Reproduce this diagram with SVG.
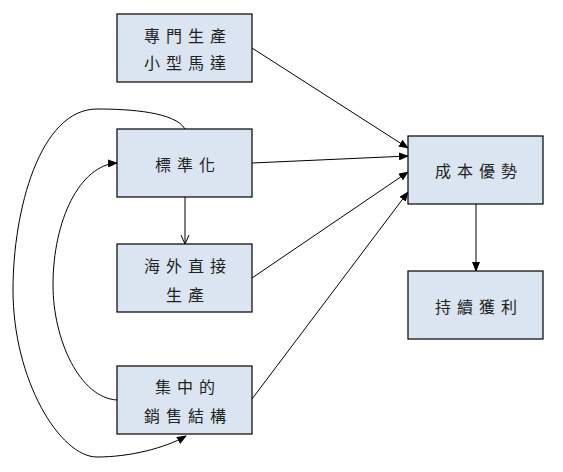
<svg xmlns="http://www.w3.org/2000/svg" width="563" height="472" viewBox="0 0 563 472">
<style>
.box{fill:#dbe5f1;stroke:#000;stroke-width:1.2}
.t{font-family:"Noto Sans CJK TC","Noto Sans CJK SC",sans-serif;font-size:16px;fill:#222;text-anchor:middle;letter-spacing:6px}
.c{fill:none;stroke:#000;stroke-width:1}
</style>
<defs>
<marker id="a" markerWidth="10" markerHeight="8" refX="9" refY="4" orient="auto" markerUnits="userSpaceOnUse">
<path d="M0,0 L10,4 L0,8 Z" fill="#000"/>
</marker>
<marker id="v" markerWidth="10" markerHeight="10" refX="9" refY="5" orient="auto" markerUnits="userSpaceOnUse">
<path d="M0,1 L9,5 L0,9" fill="none" stroke="#000" stroke-width="1"/>
</marker>
</defs>
<rect width="563" height="472" fill="#fff"/>
<g id="connectors">
<line class="c" x1="252" y1="48" x2="408" y2="148" marker-end="url(#a)"/>
<line class="c" x1="252" y1="163" x2="408" y2="156" marker-end="url(#a)"/>
<line class="c" x1="252" y1="278" x2="408" y2="172" marker-end="url(#a)"/>
<line class="c" x1="252" y1="399" x2="408" y2="192" marker-end="url(#a)"/>
<line class="c" x1="185" y1="197" x2="185" y2="244" marker-end="url(#v)"/>
<line class="c" x1="476" y1="204" x2="476" y2="271" marker-end="url(#a)"/>
<path class="c" d="M185,129 C175,112 130,109 97,109 C40,109 13,210 13,290 C13,380 60,457 97,457 C130,457 165,448 186,436" marker-end="url(#a)"/>
<path class="c" d="M117,400 C80,398 53,340 53,285 C53,220 80,165 117,163" marker-end="url(#a)"/>
</g>
<g id="n1"><rect class="box" x="117" y="14" width="135" height="68"/><text class="t" x="188" y="42">專門生產</text><text class="t" x="188" y="69">小型馬達</text></g>
<g id="n2"><rect class="box" x="117" y="129" width="135" height="68"/><text class="t" x="188" y="171">標準化</text></g>
<g id="n3"><rect class="box" x="117" y="244" width="135" height="68"/><text class="t" x="188" y="272">海外直接</text><text class="t" x="188" y="301">生產</text></g>
<g id="n4"><rect class="box" x="117" y="366" width="135" height="68"/><text class="t" x="188" y="393">集中的</text><text class="t" x="188" y="422">銷售結構</text></g>
<g id="n5"><rect class="box" x="408" y="136" width="135" height="68"/><text class="t" x="479" y="177">成本優勢</text></g>
<g id="n6"><rect class="box" x="408" y="271" width="135" height="68"/><text class="t" x="479" y="313">持續獲利</text></g>
</svg>
